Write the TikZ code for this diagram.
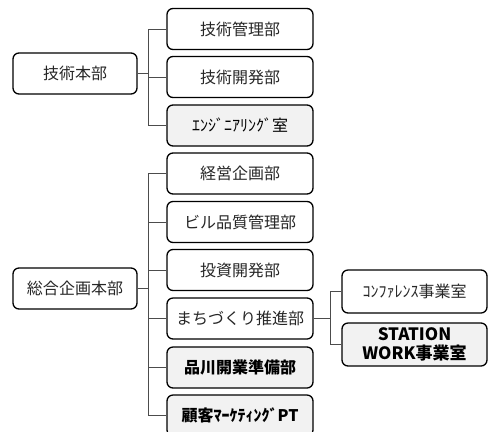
\documentclass[tikz,border=0pt]{standalone}
\usepackage{fontspec}
\setmainfont{Noto Sans CJK JP}
\begin{document}
\begin{tikzpicture}[x=1bp,y=-1bp,
  box/.style={draw=black,line width=1.3bp,rounded corners=6bp,fill=white,
    minimum width=146bp,minimum height=41bp,inner sep=0pt,align=center,
    font=\fontsize{16bp}{17bp}\selectfont,text=black!85},
  parentbox/.style={box,minimum width=124bp},
  graybox/.style={box,fill=black!5},
  boldbox/.style={graybox,font=\fontsize{16bp}{17bp}\selectfont\bfseries,text=black},
  link/.style={draw=black!70,line width=0.9bp}]
\useasboundingbox (0,0) rectangle (488,431);
\clip (0,0) rectangle (488,431);
% technology division
\node[parentbox] (A) at (75,73.5) {技術本部};
\node[box] (A1) at (240,29) {技術管理部};
\node[box] (A2) at (240,77) {技術開発部};
\node[graybox,text=black] (A3) at (240,125.5) {ｴﾝｼﾞﾆｱﾘﾝｸﾞ室};
\coordinate (tA) at (148,0);
\draw[link] (A.east) -- (A.east -| tA);
\draw[link] (A1.west) -- (A1.west -| tA) -- (A3.west -| tA) -- (A3.west);
\draw[link] (A2.west) -- (A2.west -| tA);
% planning division
\node[parentbox] (B) at (75,288.5) {総合企画本部};
\node[box] (B1) at (240,173.5) {経営企画部};
\node[box] (B2) at (240,222) {ビル品質管理部};
\node[box] (B3) at (240,270) {投資開発部};
\node[box] (B4) at (240,318.5) {まちづくり推進部};
\node[boldbox] (B5) at (240,367.5) {品川開業準備部};
\node[boldbox] (B6) at (240,415.5) {顧客ﾏｰｹﾃｨﾝｸﾞPT};
\coordinate (tB) at (148,0);
\draw[link] (B.east) -- (B.east -| tB);
\draw[link] (B1.west) -- (B1.west -| tB) -- (B6.west -| tB) -- (B6.west);
\foreach \n in {B2,B3,B4,B5} \draw[link] (\n.west) -- (\n.west -| tB);
% sub units
\node[box,minimum width=145bp,minimum height=43bp] (C1) at (414.5,291.5) {ｺﾝﾌｧﾚﾝｽ事業室};
\node[boldbox,minimum width=145bp,minimum height=43bp,font=\fontsize{17bp}{18.5bp}\selectfont\bfseries] (C2) at (414.5,344.5) {STATION\\WORK事業室};
\coordinate (tC) at (330,0);
\draw[link] (B4.east) -- (B4.east -| tC);
\draw[link] (C1.west) -- (C1.west -| tC) -- (C2.west -| tC) -- (C2.west);
\end{tikzpicture}
\end{document}
